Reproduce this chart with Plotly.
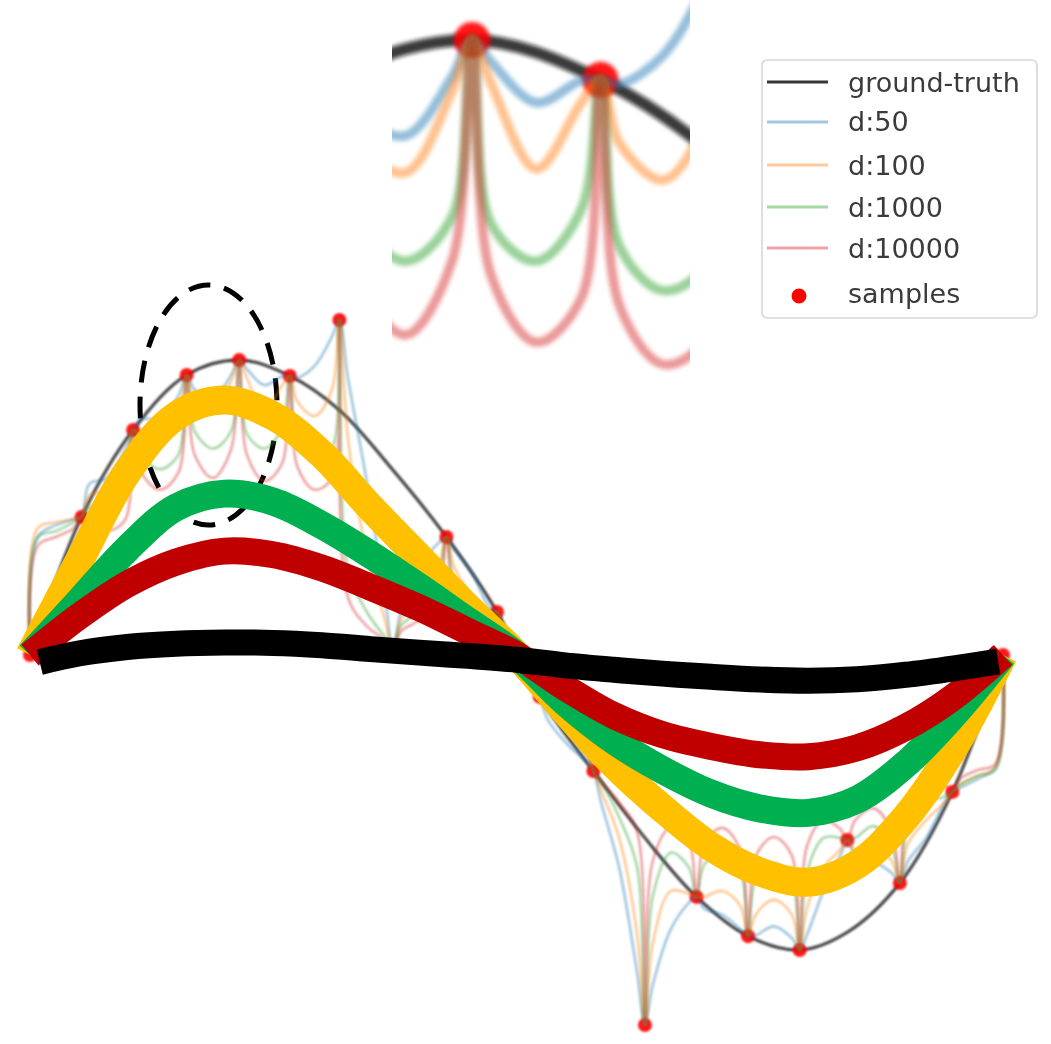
import plotly.graph_objects as go

# ---------------------------------------------------------------- data
# sample locations and observed values (x on [0, 1])
SAMPLE_X = [0.0, 0.053, 0.106, 0.161, 0.215, 0.267, 0.318, 0.373, 0.428, 0.480,
            0.524, 0.579, 0.632, 0.685, 0.738, 0.791, 0.840, 0.894, 0.948, 1.0]
SAMPLE_Y = [0.0, 0.468, 0.763, 0.949, 1.0, 0.946, 1.136, 0.02, 0.40, 0.146,
            -0.142, -0.393, -1.254, -0.82, -0.953, -1.0, -0.627, -0.773, -0.464, 0.0]

# ground-truth function at the sample locations
GT_Y = [0.0, 0.468, 0.763, 0.949, 1.0, 0.946, 0.83, 0.627, 0.40, 0.146,
        -0.142, -0.393, -0.62, -0.82, -0.953, -1.0, -0.94, -0.773, -0.464, 0.0]

# interpolants: values inside each sample interval at these fractions
FRACS = [0.15, 0.5, 0.85]
D50 = [[0.40, 0.44, 0.46], [0.58, 0.60, 0.70], [0.80, 0.80, 0.88], [0.90, 0.87, 0.95],
       [0.97, 0.915, 0.945], [0.94, 0.98, 1.08], [0.95, 0.60, 0.20], [0.15, 0.30, 0.38],
       [0.36, 0.28, 0.16], [0.09, 0.0, -0.09], [-0.22, -0.30, -0.36], [-0.50, -0.72, -1.08],
       [-1.12, -0.93, -0.84], [-0.86, -0.88, -0.93], [-0.95, -0.92, -0.96], [-0.95, -0.80, -0.68],
       [-0.68, -0.70, -0.74], [-0.70, -0.62, -0.50], [-0.45, -0.42, -0.38]]
D100 = [[0.43, 0.45, 0.46], [0.54, 0.56, 0.66], [0.74, 0.73, 0.82], [0.86, 0.82, 0.93],
        [0.94, 0.825, 0.915], [0.86, 0.81, 0.90], [0.75, 0.35, 0.12], [0.12, 0.20, 0.30],
        [0.30, 0.20, 0.13], [0.08, 0.0, -0.08], [-0.15, -0.24, -0.33], [-0.46, -0.62, -0.95],
        [-0.98, -0.80, -0.81], [-0.82, -0.80, -0.85], [-0.88, -0.83, -0.88], [-0.86, -0.72, -0.66],
        [-0.66, -0.64, -0.70], [-0.64, -0.56, -0.50], [-0.44, -0.41, -0.38]]
D1000 = [[0.40, 0.42, 0.45], [0.50, 0.50, 0.58], [0.68, 0.63, 0.68], [0.76, 0.70, 0.76],
         [0.75, 0.70, 0.77], [0.72, 0.66, 0.70], [0.30, 0.15, 0.06], [0.10, 0.15, 0.25],
         [0.25, 0.15, 0.12], [0.07, 0.0, -0.07], [-0.12, -0.18, -0.28], [-0.43, -0.55, -0.72],
         [-0.82, -0.67, -0.72], [-0.71, -0.67, -0.73], [-0.76, -0.705, -0.76], [-0.74, -0.62, -0.62],
         [-0.62, -0.58, -0.65], [-0.58, -0.50, -0.48], [-0.44, -0.41, -0.39]]
D10000 = [[0.37, 0.40, 0.43], [0.44, 0.42, 0.46], [0.62, 0.56, 0.62], [0.68, 0.60, 0.70],
          [0.68, 0.59, 0.65], [0.64, 0.56, 0.60], [0.20, 0.10, 0.05], [0.08, 0.12, 0.20],
          [0.20, 0.12, 0.10], [0.06, 0.0, -0.06], [-0.10, -0.15, -0.25], [-0.43, -0.50, -0.60],
          [-0.70, -0.585, -0.63], [-0.64, -0.586, -0.66], [-0.68, -0.617, -0.68], [-0.65, -0.56, -0.59],
          [-0.56, -0.52, -0.60], [-0.50, -0.43, -0.44], [-0.42, -0.39, -0.37]]

# smooth components
SMOOTH_X = [0.0, 0.05, 0.1, 0.15, 0.2, 0.25, 0.3, 0.35, 0.4, 0.45, 0.5,
            0.55, 0.6, 0.65, 0.7, 0.75, 0.8, 0.85, 0.9, 0.95, 1.0]
YELLOW_Y = [0.0, 0.315, 0.62, 0.81, 0.864, 0.81, 0.68, 0.50, 0.33, 0.16, 0.0,
            -0.19, -0.37, -0.52, -0.65, -0.735, -0.77, -0.71, -0.55, -0.31, 0.0]
GREEN_Y = [0.0, 0.18, 0.36, 0.50, 0.547, 0.52, 0.44, 0.34, 0.23, 0.115, 0.0,
           -0.16, -0.29, -0.39, -0.47, -0.52, -0.535, -0.49, -0.37, -0.20, 0.0]
RED_Y = [0.0, 0.13, 0.24, 0.315, 0.352, 0.34, 0.295, 0.23, 0.16, 0.08, 0.0,
         -0.11, -0.205, -0.27, -0.31, -0.338, -0.345, -0.315, -0.245, -0.14, 0.0]
BLACK_X = [0.01, 0.05, 0.1, 0.15, 0.2, 0.25, 0.3, 0.35, 0.4, 0.45, 0.5,
           0.55, 0.6, 0.65, 0.7, 0.75, 0.8, 0.85, 0.9, 0.95, 0.995]
BLACK_Y = [-0.024, 0.005, 0.027, 0.038, 0.042, 0.041, 0.033, 0.02, 0.008, -0.003, -0.016,
           -0.035, -0.05, -0.063, -0.074, -0.083, -0.087, -0.082, -0.067, -0.045, -0.022]

LEGEND_LABELS = ["ground-truth", "d:50", "d:100", "d:1000", "d:10000", "samples"]

# ---------------------------------------------------------------- helpers
W, H = 1051, 1044
X_LEFT, X_RIGHT, Y_ZERO, Y_UNIT = 30, 1003, 655, 295   # canvas pixels of the x=0..1 span / y scale


def interpolant_path(interior):
    xs, ys = [], []
    for i, vals in enumerate(interior):
        xa, xb = SAMPLE_X[i], SAMPLE_X[i + 1]
        xs.append(xa)
        ys.append(SAMPLE_Y[i])
        for f, v in zip(FRACS, vals):
            xs.append(xa + f * (xb - xa))
            ys.append(v)
    xs.append(SAMPLE_X[-1])
    ys.append(SAMPLE_Y[-1])
    return xs, ys


def px_x(p):
    return p / W


def px_y(p):
    return 1 - p / H


fig = go.Figure()

tab = {"d:50": "31,119,180", "d:100": "255,127,14", "d:1000": "44,160,44", "d:10000": "214,39,40"}
series = [("d:50", D50), ("d:100", D100), ("d:1000", D1000), ("d:10000", D10000)]

# main panel and magnified panel share the same data
for axes, lw_thin, lw_gt, msize, soft, alpha in [(("x", "y"), 2.6, 3.0, 14, "soft1", 0.42),
                                                 (("x2", "y2"), 9.5, 12.0, 36, "soft2", 0.48)]:
    xa, ya = axes
    fig.add_trace(go.Scatter(x=SAMPLE_X, y=GT_Y, mode="lines", name="ground-truth",
                             line=dict(color="rgba(20,20,20,0.82)", width=lw_gt, shape="spline"),
                             xaxis=xa, yaxis=ya, meta=soft, hoverinfo="skip"))
    fig.add_trace(go.Scatter(x=SAMPLE_X, y=SAMPLE_Y, mode="markers", name="samples",
                             marker=dict(color="rgba(255,0,0,0.9)", size=msize, line=dict(width=0)),
                             xaxis=xa, yaxis=ya, meta=soft, hoverinfo="skip"))
    for name, interior in series:
        xs, ys = interpolant_path(interior)
        fig.add_trace(go.Scatter(x=xs, y=ys, mode="lines", name=name,
                                 line=dict(color="rgba(%s,%s)" % (tab[name], alpha), width=lw_thin,
                                           shape="spline", smoothing=1.0),
                                 xaxis=xa, yaxis=ya, meta=soft, hoverinfo="skip"))

# smooth components drawn on top (yellow first, black last)
for name, xs, ys, col, lw in [("smooth yellow", SMOOTH_X, YELLOW_Y, "#FFC000", 29),
                              ("smooth green", SMOOTH_X, GREEN_Y, "#00B050", 28),
                              ("smooth red", SMOOTH_X, RED_Y, "#C00000", 27),
                              ("smooth black", BLACK_X, BLACK_Y, "#000000", 26)]:
    fig.add_trace(go.Scatter(x=xs, y=ys, mode="lines", name=name,
                             line=dict(color=col, width=lw, shape="spline"), hoverinfo="skip"))

# dashed ellipse marking the zoomed region
shapes = [dict(type="circle", xref="x", yref="y", layer="below",
               x0=(140 - X_LEFT) / (X_RIGHT - X_LEFT), x1=(277 - X_LEFT) / (X_RIGHT - X_LEFT),
               y0=(Y_ZERO - 525) / Y_UNIT, y1=(Y_ZERO - 285) / Y_UNIT,
               line=dict(color="black", width=5, dash="22px,14px"))]

# legend box
bx0, bx1, by0, by1, r = 762, 1037, 60, 318, 6
rx, ry = r / W, r / H
X0, X1, Y0, Y1 = px_x(bx0), px_x(bx1), px_y(by0), px_y(by1)
path = (f"M {X0+rx},{Y0} L {X1-rx},{Y0} Q {X1},{Y0} {X1},{Y0-ry} L {X1},{Y1+ry} "
        f"Q {X1},{Y1} {X1-rx},{Y1} L {X0+rx},{Y1} Q {X0},{Y1} {X0},{Y1+ry} "
        f"L {X0},{Y0-ry} Q {X0},{Y0} {X0+rx},{Y0} Z")
shapes.append(dict(type="path", xref="paper", yref="paper", path=path, layer="above",
                   fillcolor="rgba(255,255,255,0.85)", line=dict(color="#d6d6d6", width=1.6)))

rows = [82, 122, 165, 207, 248, 293]
legend_colors = ["rgba(20,20,20,0.85)"] + ["rgba(%s,0.42)" % tab[n] for n, _ in series]
annotations = []
for row, label, col in zip(rows[:5], LEGEND_LABELS[:5], legend_colors):
    shapes.append(dict(type="line", xref="paper", yref="paper", layer="above",
                       x0=px_x(767), x1=px_x(828), y0=px_y(row), y1=px_y(row),
                       line=dict(color=col, width=3.2)))
shapes.append(dict(type="circle", xref="paper", yref="paper", layer="above",
                   xsizemode="pixel", ysizemode="pixel",
                   xanchor=px_x(799), yanchor=px_y(rows[5] + 3),
                   x0=-7.5, x1=7.5, y0=-7.5, y1=7.5, fillcolor="red", line=dict(width=0)))
for row, label in zip(rows, LEGEND_LABELS):
    annotations.append(dict(x=px_x(846), y=px_y(row), xref="paper", yref="paper",
                            text=label, showarrow=False, xanchor="left", yanchor="middle",
                            font=dict(family="DejaVu Sans", size=27, color="#3a3a3a")))

span = X_RIGHT - X_LEFT
fig.update_layout(
    width=W, height=H, margin=dict(l=0, r=0, t=0, b=0),
    paper_bgcolor="white", plot_bgcolor="rgba(0,0,0,0)", showlegend=False,
    xaxis=dict(domain=[0, 1], range=[-X_LEFT / span, (W - X_LEFT) / span], visible=False),
    yaxis=dict(domain=[0, 1], range=[(Y_ZERO - H) / Y_UNIT, Y_ZERO / Y_UNIT], visible=False),
    xaxis2=dict(domain=[px_x(392), px_x(690)], range=[0.18263, 0.30319], visible=False, anchor="y2"),
    yaxis2=dict(domain=[px_y(385), 1.0], range=[0.532, 1.0542], visible=False, anchor="x2"),
    shapes=shapes, annotations=annotations,
)

# soft-focus filters for the thin interpolants, the zoom panel and the legend
post = """
var gd = document.getElementById('{plot_id}');
var svg = gd.querySelector('svg.main-svg');
var ns = 'http://www.w3.org/2000/svg';
var defs = svg.querySelector('defs');
var levels = {soft1: 0.8, soft2: 2.0, soft3: 0.6};
Object.keys(levels).forEach(function (k) {
  var f = document.createElementNS(ns, 'filter');
  f.setAttribute('id', k);
  f.setAttribute('x', '-10%'); f.setAttribute('y', '-10%');
  f.setAttribute('width', '120%'); f.setAttribute('height', '120%');
  var b = document.createElementNS(ns, 'feGaussianBlur');
  b.setAttribute('stdDeviation', levels[k]);
  f.appendChild(b); defs.appendChild(f);
});
gd.querySelectorAll('g.trace').forEach(function (g) {
  var d = g.__data__; var t = d && d[0] && d[0].trace;
  if (t && typeof t.meta === 'string' && levels[t.meta] !== undefined) {
    g.setAttribute('filter', 'url(#' + t.meta + ')');
  }
});
gd.querySelectorAll('g.annotation').forEach(function (g) { g.setAttribute('filter', 'url(#soft3)'); });
gd.querySelectorAll('.layer-above .shapelayer').forEach(function (g) { g.setAttribute('filter', 'url(#soft3)'); });
"""

fig.write_html("out.html", post_script=post)
